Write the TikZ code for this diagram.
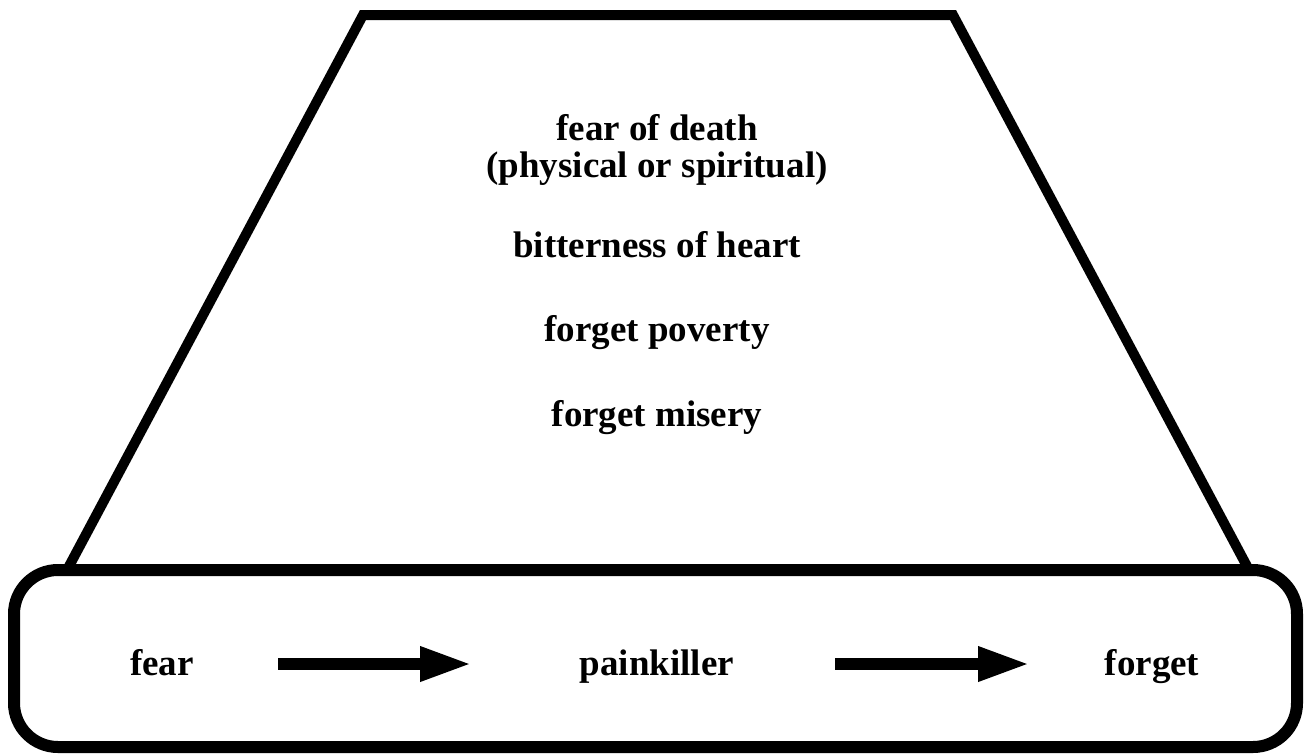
\documentclass[tikz,border=0pt]{standalone}
\usepackage{fontspec}
\setmainfont{Liberation Serif}
\usetikzlibrary{arrows.meta}
\begin{document}
\begin{tikzpicture}[x=1pt,y=-1pt,
    lbl/.style={font=\fontsize{37}{36}\selectfont\bfseries,anchor=base,inner sep=0pt},
    arr/.style={line width=12pt,-{Triangle[length=52pt,width=32pt]}}]
    \useasboundingbox (0,0) rectangle (1306,755);
    % the trapezoid and the box under it
    \draw[line width=10pt] (67,570) -- (363,15) -- (953,15) -- (1249,570);
    \draw[line width=12pt,rounded corners=44pt] (14,570) rectangle (1297,747);
    \node[lbl] (death) at (657,140) {fear of death};
    \node[lbl] (physical) at (657,177) {(physical or spiritual)};
    \node[lbl] (bitter) at (657,257) {bitterness of heart};
    \node[lbl] (poverty) at (657,341) {forget poverty};
    \node[lbl] (misery) at (657,426) {forget misery};
    % the row in the box
    \node[lbl] (fear) at (162,675) {fear};
    \node[lbl] (pain) at (657,675) {painkiller};
    \node[lbl] (forget) at (1152,675) {forget};
    \coordinate (a1s) at (278,664); \coordinate (a1e) at (472,664);
    \coordinate (a2s) at (835,664); \coordinate (a2e) at (1030,664);
    \draw[arr] (a1s) -- (a1e);
    \draw[arr] (a2s) -- (a2e);
\end{tikzpicture}
\end{document}
